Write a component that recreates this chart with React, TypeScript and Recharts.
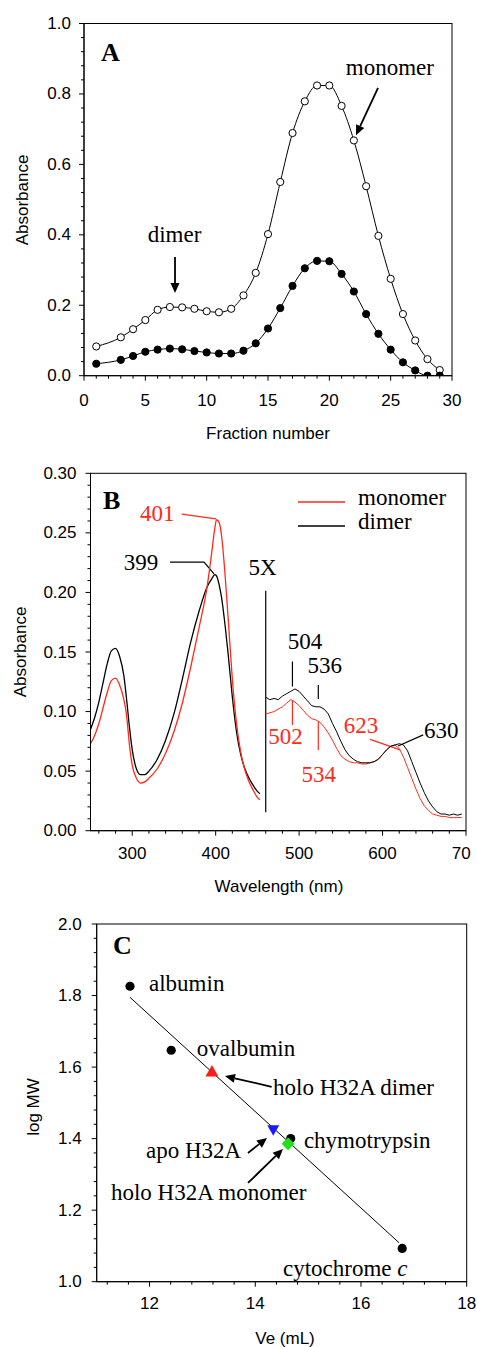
import React from "react";
import { ComposedChart, Line, LineChart, Scatter, XAxis, YAxis } from "recharts";

// ---- panel A: elution profile ----
const fraction = [1, 3, 4, 5, 6, 7, 8, 9, 10, 11, 12, 13, 14, 15, 16, 17, 18, 19, 20, 21, 22, 23, 24, 25, 26, 27, 28, 29];
const openAbs = [0.083, 0.109, 0.132, 0.158, 0.187, 0.195, 0.194, 0.19, 0.183, 0.18, 0.19, 0.228, 0.292, 0.402, 0.55, 0.689, 0.779, 0.824, 0.824, 0.766, 0.668, 0.538, 0.397, 0.275, 0.175, 0.1, 0.047, 0.016];
const filledAbs = [0.034, 0.045, 0.056, 0.068, 0.074, 0.077, 0.075, 0.07, 0.066, 0.063, 0.063, 0.071, 0.092, 0.134, 0.192, 0.255, 0.305, 0.326, 0.325, 0.289, 0.239, 0.175, 0.119, 0.074, 0.038, 0.015, 0.0, 0.0];
const majorAx = [0, 5, 10, 15, 20, 25, 30];
const majorAy = [0, 0.2, 0.4, 0.6, 0.8, 1.0];

// ---- panel B: spectra (UV-Soret region, then 5X visible region) ----
const wl1 = [250, 255, 260, 265, 270, 275, 280, 285, 290, 293, 297, 300, 305, 310, 315, 320, 330, 340, 350, 360, 370, 380, 390, 395, 399, 401, 404, 407, 410, 415, 420, 425, 430, 435, 440, 445, 450, 453];
const dimer1 = [0.085, 0.095, 0.108, 0.124, 0.14, 0.151, 0.153, 0.146, 0.13, 0.112, 0.085, 0.068, 0.052, 0.047, 0.047, 0.05, 0.06, 0.076, 0.098, 0.127, 0.158, 0.184, 0.205, 0.211, 0.215, 0.214, 0.207, 0.196, 0.18, 0.148, 0.112, 0.083, 0.064, 0.052, 0.044, 0.038, 0.033, 0.031];
const mono1 = [0.073, 0.08, 0.09, 0.103, 0.116, 0.126, 0.128, 0.122, 0.11, 0.098, 0.07, 0.055, 0.044, 0.04, 0.041, 0.044, 0.052, 0.065, 0.083, 0.107, 0.137, 0.17, 0.206, 0.232, 0.254, 0.261, 0.259, 0.248, 0.226, 0.178, 0.127, 0.09, 0.066, 0.051, 0.041, 0.034, 0.028, 0.026];
const wl2 = [460, 465, 470, 475, 480, 485, 490, 495, 500, 505, 510, 515, 520, 525, 530, 535, 540, 545, 550, 555, 560, 565, 570, 575, 580, 585, 590, 595, 600, 605, 610, 615, 620, 625, 630, 635, 640, 645, 650, 655, 660, 665, 670, 675, 680, 685, 690, 695];
const dimer2 = [0.112, 0.11, 0.111, 0.11, 0.113, 0.115, 0.117, 0.119, 0.117, 0.113, 0.109, 0.105, 0.104, 0.104, 0.102, 0.098, 0.09, 0.083, 0.075, 0.068, 0.063, 0.06, 0.058, 0.057, 0.057, 0.057, 0.058, 0.06, 0.064, 0.068, 0.071, 0.072, 0.073, 0.072, 0.067, 0.058, 0.049, 0.04, 0.032, 0.025, 0.02, 0.016, 0.014, 0.014, 0.013, 0.014, 0.013, 0.014];
const mono2 = [0.098, 0.099, 0.1, 0.102, 0.104, 0.107, 0.11, 0.108, 0.105, 0.101, 0.097, 0.094, 0.093, 0.091, 0.087, 0.082, 0.076, 0.069, 0.063, 0.06, 0.058, 0.057, 0.057, 0.056, 0.056, 0.057, 0.058, 0.06, 0.064, 0.068, 0.071, 0.072, 0.069, 0.062, 0.053, 0.044, 0.035, 0.027, 0.021, 0.017, 0.014, 0.013, 0.012, 0.012, 0.011, 0.011, 0.011, 0.011];
const majorBx = [300, 400, 500, 600, 700];
const majorBy = [0, 0.05, 0.1, 0.15, 0.2, 0.25, 0.3];

// ---- panel C: calibration ----
const stdNames = ["albumin", "ovalbumin", "chymotrypsin", "cytochrome c"];
const stdVe = [11.63, 12.41, 14.67, 16.78];
const stdLogMW = [1.826, 1.647, 1.4, 1.093];
const fitVe = [11.63, 16.72];
const fitLogMW = [1.795, 1.109];
const holoDimer = { ve: 13.18, logMW: 1.586 };
const apo = { ve: 14.34, logMW: 1.425 };
const holoMono = { ve: 14.62, logMW: 1.386 };
const majorCx = [12, 14, 16, 18];
const majorCy = [1.0, 1.2, 1.4, 1.6, 1.8, 2.0];

const rowsA = fraction.map((f, i) => ({ f, open: openAbs[i], filled: filledAbs[i] }));
const rowsB1 = wl1.map((w, i) => ({ w, mono: mono1[i], dimer: dimer1[i] }));
const rowsB2 = wl2.map((w, i) => ({ w, mono: mono2[i], dimer: dimer2[i] }));
const rowsStd = stdVe.map((x, i) => ({ x, y: stdLogMW[i], name: stdNames[i] }));
const rowsFit = fitVe.map((x, i) => ({ x, y: fitLogMW[i] }));

const steps = (from: number, to: number, step: number) => {
  const out: number[] = [];
  for (let i = 0; from + i * step <= to + 1e-9; i++) out.push(+(from + i * step).toFixed(4));
  return out;
};

const W = 477;
const sans = "'Liberation Sans', Arial, Helvetica, sans-serif";
const serif = "'Liberation Serif', 'Times New Roman', serif";
const RED = "#ff2a1a";

type Geo = { left: number; right: number; top: number; bottom: number; xd: [number, number]; yd: [number, number] };
const geoA: Geo = { left: 84, right: 452, top: 23.5, bottom: 375.7, xd: [0, 30], yd: [0, 1] };
const geoB: Geo = { left: 90.5, right: 466, top: 23.3, bottom: 380.7, xd: [250, 700], yd: [0, 0.3] };
const geoC: Geo = { left: 96.7, right: 466.7, top: 24, bottom: 381.7, xd: [11, 18], yd: [1, 2] };
const sx = (g: Geo, v: number) => g.left + ((v - g.xd[0]) / (g.xd[1] - g.xd[0])) * (g.right - g.left);
const sy = (g: Geo, v: number) => g.bottom - ((v - g.yd[0]) / (g.yd[1] - g.yd[0])) * (g.bottom - g.top);

const makeTick = (side: "left" | "bottom", majors: number[], digits: number, off: number) => (props: any) => {
  const { x, y, payload } = props;
  const v = payload.value as number;
  const major = majors.some((m) => Math.abs(m - v) < 1e-6);
  const len = major ? 5 : 3;
  const label = digits > 0 ? v.toFixed(digits) : String(Math.round(v));
  if (side === "left") {
    return (
      <g>
        <line x1={x} y1={y} x2={x - len} y2={y} stroke="#000" strokeWidth={1} />
        {major && (
          <text x={x - off} y={y} textAnchor="end" dominantBaseline="central" fontFamily={sans} fontSize={17} fill="#000">
            {label}
          </text>
        )}
      </g>
    );
  }
  return (
    <g>
      <line x1={x} y1={y} x2={x} y2={y + len} stroke="#000" strokeWidth={1} />
      {major && (
        <text x={x} y={y + off} textAnchor="middle" dominantBaseline="central" fontFamily={sans} fontSize={17} fill="#000">
          {label}
        </text>
      )}
    </g>
  );
};

function Frame({ g }: { g: Geo }) {
  return <rect x={g.left} y={g.top} width={g.right - g.left} height={g.bottom - g.top} fill="none" stroke="#000" strokeWidth={1} />;
}

function Arrow({ x1, y1, x2, y2, head = 10, w = 4.5, width = 1.8 }: { x1: number; y1: number; x2: number; y2: number; head?: number; w?: number; width?: number }) {
  const L = Math.hypot(x2 - x1, y2 - y1);
  const ux = (x2 - x1) / L;
  const uy = (y2 - y1) / L;
  const bx = x2 - ux * head;
  const by = y2 - uy * head;
  const px = -uy * w;
  const py = ux * w;
  return (
    <g>
      <line x1={x1} y1={y1} x2={bx} y2={by} stroke="#000" strokeWidth={width} />
      <polygon points={`${x2},${y2} ${bx + px},${by + py} ${bx - px},${by - py}`} fill="#000" />
    </g>
  );
}

function Txt({ x, y, children, color = "#000", anchor = "middle", size = 23 }: { x: number; y: number; children: React.ReactNode; color?: string; anchor?: "start" | "middle" | "end"; size?: number }) {
  return (
    <text x={x} y={y} textAnchor={anchor} dominantBaseline="central" fontFamily={serif} fontSize={size} fill={color}>
      {children}
    </text>
  );
}

function AxisTitles({ xTitle, yTitle, yx, yy, xx, xy }: { xTitle: string; yTitle: string; yx: number; yy: number; xx: number; xy: number }) {
  return (
    <g fontFamily={sans} fontSize={17} fill="#000">
      <text x={xx} y={xy} textAnchor="middle" dominantBaseline="central">
        {xTitle}
      </text>
      <text x={yx} y={yy} textAnchor="middle" dominantBaseline="central" transform={`rotate(-90 ${yx} ${yy})`}>
        {yTitle}
      </text>
    </g>
  );
}

function PanelA() {
  const g = geoA;
  const H = 450;
  return (
    <LineChart width={W} height={H} data={rowsA} margin={{ top: g.top, right: W - g.right, bottom: 0, left: 0 }}>
      <XAxis dataKey="f" type="number" domain={g.xd} allowDataOverflow ticks={steps(0, 30, 1)} interval={0} height={H - g.bottom} tickSize={0} tickMargin={0} tickLine={false} axisLine={{ stroke: "#000" }} tick={makeTick("bottom", majorAx, 0, 25)} />
      <YAxis type="number" domain={g.yd} allowDataOverflow ticks={steps(0, 1, 0.04)} interval={0} width={g.left} tickSize={0} tickMargin={0} tickLine={false} axisLine={{ stroke: "#000" }} tick={makeTick("left", majorAy, 1, 13)} />
      <Line dataKey="open" type="monotone" stroke="#000" strokeWidth={1} dot={{ r: 3.6, fill: "#fff", stroke: "#000", strokeWidth: 1 }} isAnimationActive={false} />
      <Line dataKey="filled" type="monotone" stroke="#000" strokeWidth={1} dot={{ r: 3.6, fill: "#000", stroke: "#000", strokeWidth: 1 }} isAnimationActive={false} />
      <Frame g={g} />
      <text x={101} y={52} dominantBaseline="central" fontFamily={serif} fontWeight="bold" fontSize={26}>A</text>
      <Txt x={sx(g, 24.94)} y={sy(g, 0.876)}>monomer</Txt>
      <Arrow x1={sx(g, 23.97)} y1={sy(g, 0.817)} x2={sx(g, 22.17)} y2={sy(g, 0.683)} />
      <Txt x={sx(g, 7.38)} y={sy(g, 0.4)}>dimer</Txt>
      <Arrow x1={sx(g, 7.42)} y1={sy(g, 0.337)} x2={sx(g, 7.42)} y2={sy(g, 0.235)} />
      <AxisTitles xTitle="Fraction number" yTitle="Absorbance" xx={(g.left + g.right) / 2} xy={433} yx={22} yy={200} />
    </LineChart>
  );
}

function PanelB() {
  const g = geoB;
  const H = 450;
  const line = (x1: number, y1: number, x2: number, y2: number, c: string) => (
    <line x1={sx(g, x1)} y1={sy(g, y1)} x2={sx(g, x2)} y2={sy(g, y2)} stroke={c} strokeWidth={1.2} />
  );
  return (
    <LineChart width={W} height={H} margin={{ top: g.top, right: W - g.right, bottom: 0, left: 0 }}>
      <XAxis dataKey="w" type="number" domain={g.xd} allowDataOverflow ticks={steps(260, 700, 20)} interval={0} height={H - g.bottom} tickSize={0} tickMargin={0} tickLine={false} axisLine={{ stroke: "#000" }} tick={makeTick("bottom", majorBx, 0, 22.5)} />
      <YAxis type="number" domain={g.yd} allowDataOverflow ticks={steps(0, 0.3, 0.01)} interval={0} width={g.left} tickSize={0} tickMargin={0} tickLine={false} axisLine={{ stroke: "#000" }} tick={makeTick("left", majorBy, 2, 14)} />
      <Line data={rowsB1} dataKey="dimer" name="dimer" type="monotone" stroke="#000" strokeWidth={1.3} dot={false} isAnimationActive={false} />
      <Line data={rowsB1} dataKey="mono" name="monomer" type="monotone" stroke={RED} strokeWidth={1.3} dot={false} isAnimationActive={false} />
      <Line data={rowsB2} dataKey="mono" name="monomer 5X" type="linear" stroke={RED} strokeWidth={1} dot={false} isAnimationActive={false} />
      <Line data={rowsB2} dataKey="dimer" name="dimer 5X" type="linear" stroke="#000" strokeWidth={1} dot={false} isAnimationActive={false} />
      <Frame g={g} />
      <text x={103} y={50} dominantBaseline="central" fontFamily={serif} fontWeight="bold" fontSize={26}>B</text>
      {/* legend */}
      <line x1={298} y1={52} x2={345} y2={52} stroke={RED} strokeWidth={1.3} />
      <Txt x={358} y={47} anchor="start">monomer</Txt>
      <line x1={298} y1={76} x2={345} y2={76} stroke="#000" strokeWidth={1.3} />
      <Txt x={358} y={71} anchor="start">dimer</Txt>
      {/* peak labels */}
      <Txt x={sx(g, 330)} y={sy(g, 0.266)} color={RED}>401</Txt>
      {line(359.4, 0.2657, 400.5, 0.2617, RED)}
      <Txt x={sx(g, 310.6)} y={sy(g, 0.2248)}>399</Txt>
      <polyline
        points={`${sx(g, 345.3)},${sy(g, 0.2254)} ${sx(g, 386.1)},${sy(g, 0.2254)} ${sx(g, 398)},${sy(g, 0.2155)}`}
        fill="none"
        stroke="#000"
        strokeWidth={1.2}
      />
      <Txt x={sx(g, 456.2)} y={sy(g, 0.2206)}>5X</Txt>
      {line(460, 0.2015, 460, 0.0154, "#000")}
      <Txt x={sx(g, 507)} y={sy(g, 0.1587)}>504</Txt>
      {line(492, 0.142, 492, 0.121, "#000")}
      <Txt x={sx(g, 530.6)} y={sy(g, 0.139)}>536</Txt>
      {line(523, 0.1223, 523, 0.1106, "#000")}
      <Txt x={sx(g, 483.8)} y={sy(g, 0.0789)} color={RED}>502</Txt>
      {line(492, 0.1097, 492, 0.0888, RED)}
      <Txt x={sx(g, 523.4)} y={sy(g, 0.0468)} color={RED}>534</Txt>
      {line(523, 0.0915, 523, 0.0678, RED)}
      <Txt x={sx(g, 574.3)} y={sy(g, 0.0887)} color={RED}>623</Txt>
      {line(585.1, 0.0767, 621.1, 0.0678, RED)}
      <Txt x={sx(g, 670.3)} y={sy(g, 0.084)}>630</Txt>
      {line(648.7, 0.0804, 618.7, 0.0711, "#000")}
      <AxisTitles xTitle="Wavelength (nm)" yTitle="Absorbance" xx={279} xy={436} yx={20} yy={202} />
    </LineChart>
  );
}

const triUp = (p: any) => <polygon points={`${p.cx},${p.cy - 7} ${p.cx - 6.5},${p.cy + 4.5} ${p.cx + 6.5},${p.cy + 4.5}`} fill="#ff1a1a" />;
const triDown = (p: any) => <polygon points={`${p.cx},${p.cy + 6} ${p.cx - 6},${p.cy - 4.5} ${p.cx + 6},${p.cy - 4.5}`} fill="#1a1aff" />;
const diamond = (p: any) => <polygon points={`${p.cx},${p.cy - 6.5} ${p.cx + 6.5},${p.cy} ${p.cx},${p.cy + 6.5} ${p.cx - 6.5},${p.cy}`} fill="#22e01a" />;
const dotBlack = (p: any) => <circle cx={p.cx} cy={p.cy} r={4.6} fill="#000" />;

function PanelC() {
  const g = geoC;
  const H = 447;
  return (
    <ComposedChart width={W} height={H} margin={{ top: g.top, right: W - g.right, bottom: 0, left: 0 }}>
      <XAxis dataKey="x" type="number" domain={g.xd} allowDataOverflow ticks={steps(11.2, 18, 0.4)} interval={0} height={H - g.bottom} tickSize={0} tickMargin={0} tickLine={false} axisLine={{ stroke: "#000" }} tick={makeTick("bottom", majorCx, 0, 21.5)} />
      <YAxis dataKey="y" type="number" domain={g.yd} allowDataOverflow ticks={steps(1, 2, 0.04)} interval={0} width={g.left} tickSize={0} tickMargin={0} tickLine={false} axisLine={{ stroke: "#000" }} tick={makeTick("left", majorCy, 1, 15)} />
      <Line data={rowsFit} dataKey="y" type="linear" stroke="#000" strokeWidth={1} dot={false} isAnimationActive={false} />
      <Scatter data={rowsStd} dataKey="y" shape={dotBlack} isAnimationActive={false} />
      <Scatter data={[{ x: holoDimer.ve, y: holoDimer.logMW }]} dataKey="y" shape={triUp} isAnimationActive={false} />
      <Scatter data={[{ x: apo.ve, y: apo.logMW }]} dataKey="y" shape={triDown} isAnimationActive={false} />
      <Scatter data={[{ x: holoMono.ve, y: holoMono.logMW }]} dataKey="y" shape={diamond} isAnimationActive={false} />
      <Frame g={g} />
      <text x={113} y={45} dominantBaseline="central" fontFamily={serif} fontWeight="bold" fontSize={26}>C</text>
      <Txt x={sx(g, 11.99)} y={sy(g, 1.835)} anchor="start">albumin</Txt>
      <Txt x={sx(g, 12.895)} y={sy(g, 1.653)} anchor="start">ovalbumin</Txt>
      <Txt x={sx(g, 14.336)} y={sy(g, 1.544)} anchor="start">holo H32A dimer</Txt>
      <Arrow x1={sx(g, 14.31)} y1={sy(g, 1.545)} x2={sx(g, 13.427)} y2={sy(g, 1.575)} />
      <Txt x={sx(g, 14.92)} y={sy(g, 1.396)} anchor="start">chymotrypsin</Txt>
      <Txt x={sx(g, 11.933)} y={sy(g, 1.368)} anchor="start">apo H32A</Txt>
      <Arrow x1={sx(g, 13.862)} y1={sy(g, 1.36)} x2={sx(g, 14.222)} y2={sy(g, 1.402)} />
      <Txt x={sx(g, 11.27)} y={sy(g, 1.248)} anchor="start">holo H32A monomer</Txt>
      <Arrow x1={sx(g, 13.862)} y1={sy(g, 1.276)} x2={sx(g, 14.524)} y2={sy(g, 1.371)} />
      <Txt x={sx(g, 14.524)} y={sy(g, 1.038)} anchor="start">
        cytochrome <tspan fontStyle="italic">c</tspan>
      </Txt>
      <AxisTitles xTitle="Ve (mL)" yTitle="log MW" xx={285} xy={438} yx={33} yy={207} />
    </ComposedChart>
  );
}

export default function App() {
  return (
    <div style={{ position: "absolute", left: 0, top: 0, width: 477, height: 1347, background: "#fff", overflow: "hidden" }}>
      <div style={{ position: "absolute", left: 0, top: 0 }}>
        <PanelA />
      </div>
      <div style={{ position: "absolute", left: 0, top: 450, width: 471, height: 450, overflow: "hidden" }}>
        <PanelB />
      </div>
      <div style={{ position: "absolute", left: 0, top: 900 }}>
        <PanelC />
      </div>
    </div>
  );
}
